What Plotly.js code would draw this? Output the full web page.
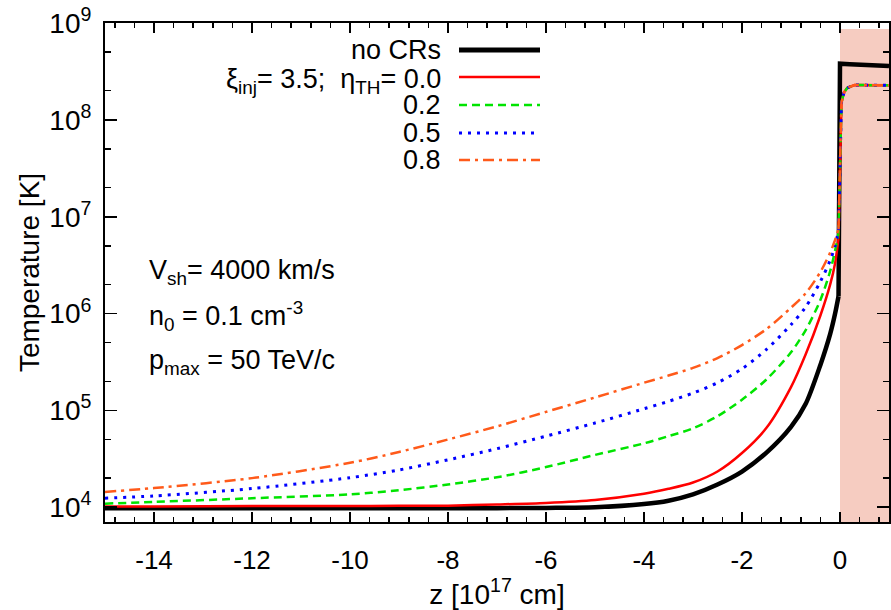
<!DOCTYPE html>
<html>
<head>
<meta charset="utf-8">
<script src="https://cdn.plot.ly/plotly-3.0.1.min.js"></script>
<style>html,body{margin:0;padding:0;background:#fff;}#chart{width:891px;height:610px;}</style>
</head>
<body>
<div id="chart"></div>
<script>
// upstream positions z [1e17 cm]
const zUp = [-15, -14, -12, -10, -9, -8, -7, -6, -5, -4, -3.5, -3, -2.5, -2, -1.5, -1, -0.7, -0.4, -0.2, -0.1, -0.03];
// downstream positions
const zDownNoCR = [0, 0.2, 0.5, 1.0];
const zDownCR = [0, 0.03, 0.08, 0.15, 0.3, 1.0];

// Temperatures [K]
const tNoCRUp = [9.8e3, 9.8e3, 9.8e3, 9.8e3, 9.8e3, 9.8e3, 9.8e3, 9.85e3, 1.0e4, 1.08e4, 1.17e4, 1.36e4, 1.72e4, 2.34e4, 3.67e4, 6.76e4, 1.17e5, 2.95e5, 6.17e5, 1.0e6, 1.51e6];
const tNoCRDown = [3.8e8, 3.75e8, 3.68e8, 3.6e8];

const tEta00Up = [1.02e4, 1.02e4, 1.03e4, 1.03e4, 1.035e4, 1.04e4, 1.07e4, 1.11e4, 1.19e4, 1.38e4, 1.55e4, 1.80e4, 2.34e4, 3.63e4, 6.61e4, 1.74e5, 3.80e5, 9.55e5, 2.0e6, 3.31e6, 6.03e6];
const tEta02Up = [1.09e4, 1.135e4, 1.24e4, 1.36e4, 1.50e4, 1.72e4, 2.04e4, 2.60e4, 3.47e4, 4.57e4, 5.43e4, 6.53e4, 8.71e4, 1.29e5, 2.09e5, 3.98e5, 6.76e5, 1.38e6, 2.75e6, 4.47e6, 6.76e6];
const tEta05Up = [1.24e4, 1.31e4, 1.56e4, 2.02e4, 2.43e4, 3.09e4, 4.03e4, 5.43e4, 7.41e4, 1.04e5, 1.24e5, 1.51e5, 1.93e5, 2.69e5, 4.27e5, 7.67e5, 1.17e6, 2.14e6, 3.55e6, 5.01e6, 7.24e6];
const tEta08Up = [1.44e4, 1.58e4, 2.0e4, 2.88e4, 3.72e4, 5.01e4, 6.84e4, 9.66e4, 1.36e5, 1.93e5, 2.29e5, 2.75e5, 3.47e5, 4.73e5, 6.92e5, 1.15e6, 1.62e6, 2.69e6, 4.27e6, 5.75e6, 7.41e6];
const tCRDown = [4.0e7, 1.51e8, 1.91e8, 2.14e8, 2.29e8, 2.27e8];

const seriesNames = ["no CRs", "0.0", "0.2", "0.5", "0.8"];
const yTickVals = [1e4, 1e5, 1e6, 1e7, 1e8, 1e9];
const yTickText = ["10<sup>4</sup>", "10<sup>5</sup>", "10<sup>6</sup>", "10<sup>7</sup>", "10<sup>8</sup>", "10<sup>9</sup>"];
const xTickVals = [-14, -12, -10, -8, -6, -4, -2, 0];

const FONT = "Liberation Sans, Arial, Helvetica, sans-serif";
const styles = [
  {color: "#000000", width: 4.5, dash: "solid"},
  {color: "#ff0000", width: 2.5, dash: "solid"},
  {color: "#00e400", width: 2.5, dash: "8px,5px"},
  {color: "#0000ff", width: 3, dash: "3px,6px"},
  {color: "#ff5a1a", width: 2.5, dash: "11px,5px,3px,5px"}
];

const upSets = [tNoCRUp, tEta00Up, tEta02Up, tEta05Up, tEta08Up];
const traces = [];
upSets.forEach((up, i) => {
  const zd = i === 0 ? zDownNoCR : zDownCR;
  const td = i === 0 ? tNoCRDown : tCRDown;
  const ln = {color: styles[i].color, width: styles[i].width, dash: styles[i].dash};
  // smooth upstream profile
  traces.push({
    x: zUp, y: up, type: "scatter", mode: "lines", name: seriesNames[i],
    showlegend: false, line: Object.assign({shape: "spline", smoothing: 0.8}, ln)
  });
  // shock jump and downstream plateau (continues from last upstream point)
  traces.push({
    x: [zUp[zUp.length - 1]].concat(zd), y: [up[up.length - 1]].concat(td),
    type: "scatter", mode: "lines", name: seriesNames[i] + " downstream",
    showlegend: false, line: Object.assign({shape: "linear"}, ln)
  });
});

// layout geometry (paper coords)
const L = 105, R = 889, T = 23, B = 522;
const px = v => (v - L) / (R - L);
const py = v => (B - v) / (B - T);

const legendRows = [50, 77, 105, 133, 160];
const legendTexts = ["no CRs", "ξ<sub>inj</sub>= 3.5;&nbsp; η<sub>TH</sub>= 0.0", "0.2", "0.5", "0.8"];

const shapes = [{
  type: "rect", xref: "x", yref: "paper", x0: 0, x1: 1, y0: 0, y1: py(29),
  fillcolor: "rgb(246,204,193)", line: {width: 0}, layer: "below"
}];
legendRows.forEach((yy, i) => {
  shapes.push({
    type: "line", xref: "paper", yref: "paper",
    x0: px(459), x1: px(540), y0: py(yy), y1: py(yy),
    line: {color: styles[i].color, width: i === 0 ? 5 : styles[i].width, dash: styles[i].dash}
  });
});

const annotations = legendRows.map((yy, i) => ({
  xref: "paper", yref: "paper", x: px(443), y: py(i === 1 ? yy + 4 : yy),
  xanchor: "right", yanchor: "middle", showarrow: false,
  text: legendTexts[i], font: {family: FONT, size: 27, color: "#000"}
}));
[["V<sub>sh</sub>= 4000 km/s", 272], ["n<sub>0</sub> = 0.1 cm<sup>-3</sup>", 316], ["p<sub>max</sub> = 50 TeV/c", 362]].forEach(([t, yy]) => {
  annotations.push({
    xref: "paper", yref: "paper", x: px(147), y: py(yy),
    xanchor: "left", yanchor: "middle", showarrow: false,
    text: t, font: {family: FONT, size: 27, color: "#000"}
  });
});

const layout = {
  width: 891, height: 610,
  margin: {l: L, r: 891 - R, t: T, b: 610 - B},
  paper_bgcolor: "#fff", plot_bgcolor: "#fff",
  font: {family: FONT, color: "#000"},
  showlegend: false,
  xaxis: {
    range: [-15, 1], tickvals: xTickVals, ticktext: xTickVals.map(String),
    ticks: "inside", ticklen: 10, tickwidth: 1.8, tickcolor: "#000",
    minor: {dtick: 0.4, tick0: 0, ticks: "inside", ticklen: 5, tickwidth: 1.5, tickcolor: "#000"},
    showline: true, linecolor: "#000", linewidth: 2, mirror: "allticks",
    showgrid: false, zeroline: false,
    tickfont: {family: FONT, size: 26, color: "#000"}, ticklabelstandoff: 14,
    title: {text: "z [10<sup>17</sup> cm]", font: {family: FONT, size: 28, color: "#000"}, standoff: 6}
  },
  yaxis: {
    type: "log", range: [3.848, 9],
    tickvals: yTickVals, ticktext: yTickText,
    ticks: "inside", ticklen: 12, tickwidth: 1.8, tickcolor: "#000",
    minor: {ticks: "inside", ticklen: 6, tickwidth: 1.5, tickcolor: "#000"},
    showline: true, linecolor: "#000", linewidth: 2, mirror: "allticks",
    showgrid: false, zeroline: false,
    tickfont: {family: FONT, size: 28, color: "#000"}, ticklabelstandoff: 6,
    title: {text: "Temperature [K]", font: {family: FONT, size: 28, color: "#000"}, standoff: 2}
  },
  shapes: shapes,
  annotations: annotations
};

Plotly.newPlot("chart", traces, layout, {displayModeBar: false, staticPlot: true});
</script>
</body>
</html>
